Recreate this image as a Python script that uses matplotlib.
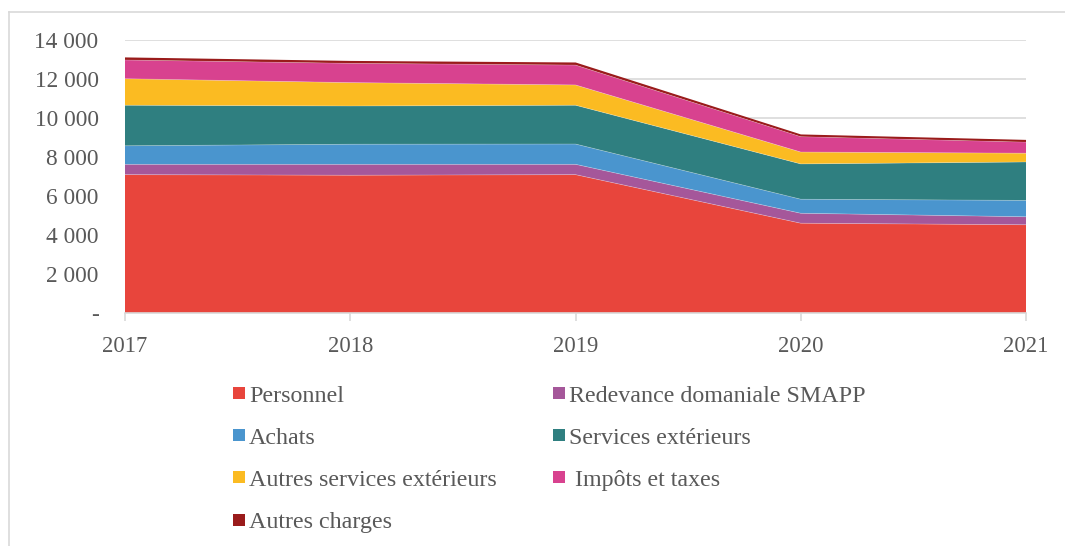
import matplotlib
matplotlib.use("Agg")
import matplotlib.pyplot as plt
from matplotlib.patches import Rectangle
from matplotlib.lines import Line2D
import numpy as np

years = [2017, 2018, 2019, 2020, 2021]
personnel = [7110, 7080, 7110, 4620, 4540]
redevance = [530, 560, 530, 510, 410]
achats = [950, 1030, 1040, 720, 840]
services_ext = [2080, 1960, 1990, 1810, 1970]
autres_services = [1360, 1200, 1040, 610, 450]
impots = [960, 990, 1020, 790, 570]
autres_charges = [90, 80, 90, 70, 70]

labels = ["Personnel", "Redevance domaniale SMAPP", "Achats", "Services extérieurs",
          "Autres services extérieurs", " Impôts et taxes", "Autres charges"]
colors = ["#E8453C", "#A5579A", "#4A95CE", "#2F7F80", "#FBBB22", "#D8428F", "#9A1B1B"]
series = [personnel, redevance, achats, services_ext, autres_services, impots, autres_charges]
yticks = [0, 2000, 4000, 6000, 8000, 10000, 12000, 14000]

plt.rcParams['font.family'] = ['Liberation Serif', 'DejaVu Serif']
txt = "#595959"

W, H = 1065, 546
fig = plt.figure(figsize=(W / 100, H / 100), dpi=100)
ax = fig.add_axes([125 / W, 1 - 313.3 / H, (1026 - 125) / W, (313.3 - 40.3) / H])

ax.stackplot(years, *series, colors=colors, edgecolor="none", zorder=2)
# thin lighter boundaries between layers
cum = np.cumsum(np.array(series), axis=0)
for i in range(len(series) - 1):
    ax.plot(years, cum[i], color="white", lw=0.5, alpha=0.35, zorder=3)
ax.plot(years, cum[-1], color=colors[-1], lw=1.2, zorder=3)

ax.set_xlim(years[0], years[-1])
ax.set_ylim(0, 14000)
ax.set_yticks(yticks)
ax.set_yticklabels(["-" if v == 0 else f"{v:,}".replace(",", " ") for v in yticks])
ax.set_xticks(years)
ax.set_xticklabels([str(y) for y in years])
ax.grid(axis="y", color="#D9D9D9", lw=1.2, zorder=1)
ax.set_axisbelow(True)
for s in ["left", "right", "top"]:
    ax.spines[s].set_visible(False)
ax.spines["bottom"].set_color("#D9D9D9")
ax.spines["bottom"].set_linewidth(1.2)
ax.spines["bottom"].set_zorder(4)
ax.tick_params(axis="y", length=0, pad=19, labelsize=16.8, labelcolor=txt)
ax.tick_params(axis="x", length=6, width=1.2, color="#D9D9D9", pad=10, labelsize=16.3, labelcolor=txt)

# legend (manual layout)
col_x = [233, 553]
for i, (lab, c) in enumerate(zip(labels, colors)):
    row, col = divmod(i, 2)
    yc = 393 + 42.2 * row
    x0 = col_x[col]
    fig.patches.append(Rectangle((x0 / W, 1 - (yc + 6) / H), 12 / W, 12 / H,
                                 transform=fig.transFigure, facecolor=c, edgecolor="none"))
    fig.text((x0 + 16) / W, 1 - (yc + 8.5) / H, lab, fontsize=17.3, color=txt,
             va="baseline", ha="left")

# chart border (top and left visible)
fig.add_artist(Line2D([9 / W, 9 / W], [0, 1 - 12 / H], transform=fig.transFigure, color="#D9D9D9", lw=1.2))
fig.add_artist(Line2D([9 / W, 1], [1 - 12 / H, 1 - 12 / H], transform=fig.transFigure, color="#D9D9D9", lw=1.2))

fig.savefig("out.png", dpi=100)
